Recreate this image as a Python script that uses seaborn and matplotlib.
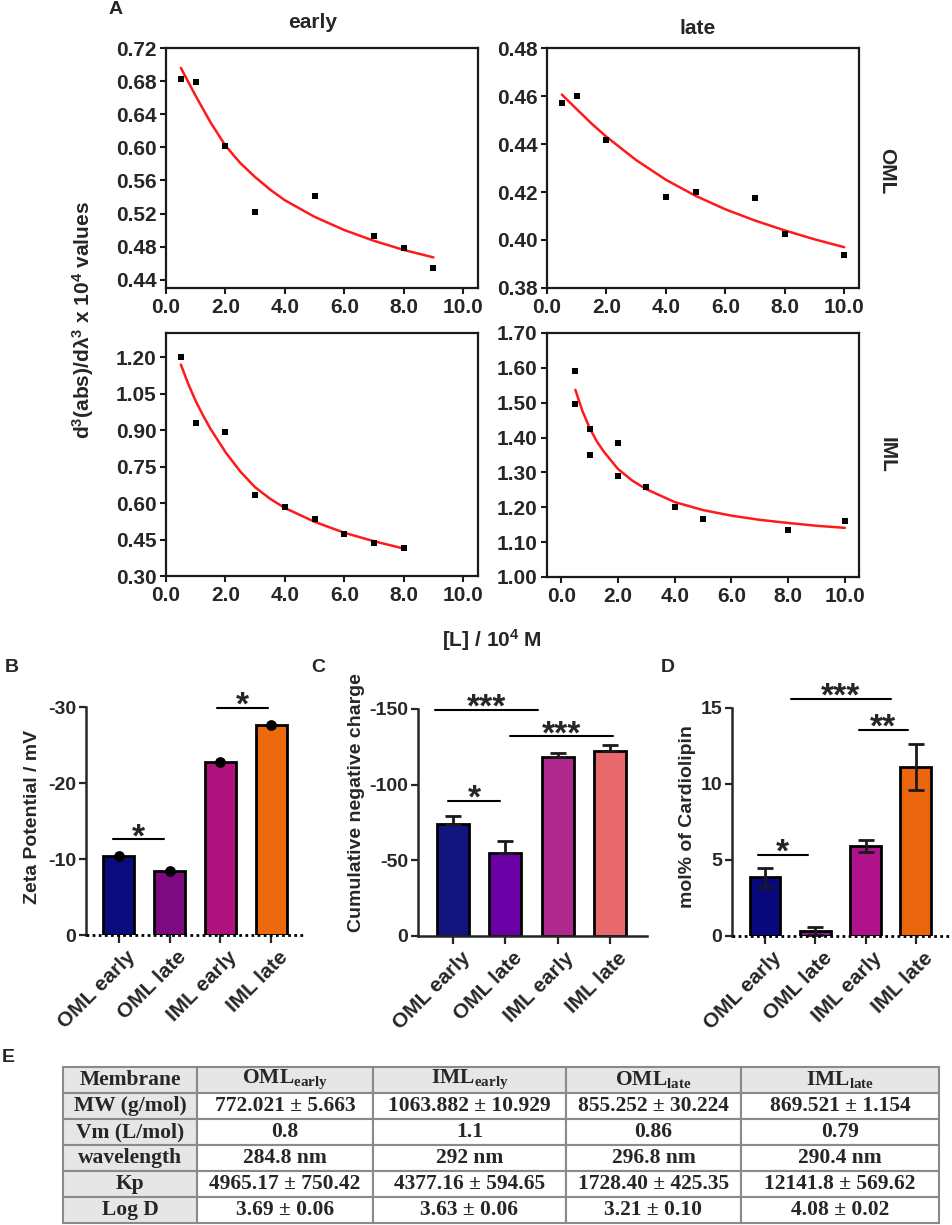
import numpy as np
import pandas as pd
import seaborn as sns
import matplotlib.pyplot as plt
from matplotlib.ticker import FormatStrFormatter
from matplotlib.transforms import ScaledTranslation

oml_early_x = [0.5, 1.0, 2.0, 3.0, 5.0, 7.0, 8.0, 9.0]
oml_early_y = [0.683, 0.679, 0.602, 0.522, 0.541, 0.493, 0.478, 0.454]
oml_early_fit_x = [0.5, 1.0, 1.5, 2.0, 2.5, 3.0, 3.5, 4.0, 5.0, 6.0, 7.0, 8.0, 9.0]
oml_early_fit_y = [0.696, 0.662, 0.630, 0.602, 0.581, 0.564, 0.549, 0.536, 0.516, 0.500, 0.487, 0.476, 0.467]

oml_late_x = [0.5, 1.0, 2.0, 4.0, 5.0, 7.0, 8.0, 10.0]
oml_late_y = [0.457, 0.460, 0.4415, 0.418, 0.420, 0.4175, 0.4027, 0.3937]
oml_late_fit_x = [0.5, 1.0, 1.5, 2.0, 3.0, 4.0, 5.0, 6.0, 7.0, 8.0, 9.0, 10.0]
oml_late_fit_y = [0.4606, 0.4545, 0.4485, 0.4430, 0.4333, 0.4251, 0.4184, 0.4128, 0.4081, 0.4040, 0.4003, 0.3970]

iml_early_x = [0.5, 1.0, 2.0, 3.0, 4.0, 5.0, 6.0, 7.0, 8.0]
iml_early_y = [1.200, 0.928, 0.894, 0.633, 0.582, 0.534, 0.472, 0.437, 0.414]
iml_early_fit_x = [0.5, 0.75, 1.0, 1.25, 1.5, 2.0, 2.5, 3.0, 3.5, 4.0, 5.0, 6.0, 7.0, 8.0]
iml_early_fit_y = [1.170, 1.090, 1.020, 0.960, 0.905, 0.810, 0.730, 0.665, 0.618, 0.580, 0.523, 0.478, 0.443, 0.413]

iml_late_x = [0.5, 0.5, 1.0, 1.0, 2.0, 2.0, 3.0, 4.0, 5.0, 8.0, 10.0]
iml_late_y = [1.592, 1.497, 1.426, 1.349, 1.383, 1.290, 1.257, 1.201, 1.167, 1.134, 1.160]
iml_late_fit_x = [0.5, 0.75, 1.0, 1.25, 1.5, 2.0, 2.5, 3.0, 4.0, 5.0, 6.0, 7.0, 8.0, 9.0, 10.0]
iml_late_fit_y = [1.537, 1.476, 1.428, 1.390, 1.360, 1.310, 1.277, 1.252, 1.215, 1.192, 1.176, 1.164, 1.155, 1.147, 1.141]

# ---- panels B-D ----
groups = ['OML early', 'OML late', 'IML early', 'IML late']
zeta = [-10.4, -8.4, -22.7, -27.6]
charge = [-74.0, -55.0, -118.0, -122.0]
charge_sd = [5.5, 8.0, 3.0, 4.5]
cardiolipin = [3.85, 0.33, 5.9, 11.1]
cardiolipin_sd = [0.6, 0.25, 0.4, 1.5]

zeta_sig = [(-0.12, 0.89, -12.6, '*'), (1.93, 2.94, -29.9, '*')]
charge_sig = [(-0.10, 0.90, -89.2, '*'), (-0.34, 1.63, -149.4, '***'), (1.09, 3.06, -132.0, '***')]
cardio_sig = [(-0.14, 0.85, 5.33, '*'), (0.52, 2.50, 15.6, '***'), (1.87, 2.84, 13.55, '**')]

colors_b = ['#0b0b7d', '#7d0a80', '#b0127e', '#ec6a0c']
colors_c = ['#14147f', '#6a00a6', '#b02a8e', '#e8696b']
colors_d = ['#08087d', '#8a1a88', '#b0128a', '#ea650e']

# ---- panel E table ----
table_header = ['Membrane', r'OML$_{\mathrm{early}}$', r'IML$_{\mathrm{early}}$',
                r'OML$_{\mathrm{late}}$', r'IML$_{\mathrm{late}}$']
table_rows = ['MW (g/mol)', 'Vm (L/mol)', 'wavelength', 'Kp', 'Log D']
col_oml_early = ['772.021 ± 5.663', '0.8', '284.8 nm', '4965.17 ± 750.42', '3.69 ± 0.06']
col_iml_early = ['1063.882 ± 10.929', '1.1', '292 nm', '4377.16 ± 594.65', '3.63 ± 0.06']
col_oml_late = ['855.252 ± 30.224', '0.86', '296.8 nm', '1728.40 ± 425.35', '3.21 ± 0.10']
col_iml_late = ['869.521 ± 1.154', '0.79', '290.4 nm', '12141.8 ± 569.62', '4.08 ± 0.02']

sns.set_theme(style='ticks')
plt.rcParams['font.family'] = ['Liberation Sans', 'DejaVu Sans']
plt.rcParams['font.weight'] = 'bold'
plt.rcParams['axes.unicode_minus'] = False
plt.rcParams['mathtext.fontset'] = 'custom'
plt.rcParams['mathtext.rm'] = 'Liberation Serif:bold'
plt.rcParams['mathtext.sf'] = 'Liberation Sans:bold'
plt.rcParams['mathtext.it'] = 'Liberation Sans:bold'
plt.rcParams['mathtext.bf'] = 'Liberation Sans:bold'

W, H = 953, 1225
fig = plt.figure(figsize=(W / 100, H / 100), dpi=100)


def box(x0, y0, x1, y1):
    return [x0 / W, 1 - y1 / H, (x1 - x0) / W, (y1 - y0) / H]


def panel_a(rect, px, py, fx, fy, xlim, ylim, yticks):
    ax = fig.add_axes(box(*rect))
    sns.lineplot(x=fx, y=fy, ax=ax, color='#ff1a1a', lw=1.8, sort=False)
    sns.scatterplot(x=px, y=py, ax=ax, marker='s', color='black', s=18, linewidth=0, zorder=3)
    ax.set_xlim(*xlim)
    ax.set_ylim(*ylim)
    ax.set_xticks(np.arange(0, 10.1, 2))
    ax.set_yticks(yticks)
    ax.xaxis.set_major_formatter(FormatStrFormatter('%.1f'))
    ax.yaxis.set_major_formatter(FormatStrFormatter('%.2f'))
    for s in ax.spines.values():
        s.set_linewidth(1.6)
        s.set_color('#1a1a1a')
    ax.tick_params(labelsize=15, width=1.5, length=4, pad=3, color='#1a1a1a')
    for lab in ax.get_xticklabels() + ax.get_yticklabels():
        lab.set_fontweight('bold')
    return ax


panel_a((166, 48, 478, 288), oml_early_x, oml_early_y, oml_early_fit_x, oml_early_fit_y,
        (0, 10.5), (0.43, 0.72), np.arange(0.44, 0.721, 0.04))
panel_a((547, 48, 859, 288), oml_late_x, oml_late_y, oml_late_fit_x, oml_late_fit_y,
        (0, 10.5), (0.38, 0.48), np.arange(0.38, 0.481, 0.02))
panel_a((166, 333, 478, 576), iml_early_x, iml_early_y, iml_early_fit_x, iml_early_fit_y,
        (0, 10.5), (0.30, 1.30), np.arange(0.30, 1.21, 0.15))
panel_a((547, 333, 859, 577), iml_late_x, iml_late_y, iml_late_fit_x, iml_late_fit_y,
        (-0.5, 10.5), (1.0, 1.7), np.arange(1.0, 1.71, 0.1))

fig.text(116 / W, 1 - 10 / H, 'A', fontsize=14, fontweight='bold', ha='center', va='center')
fig.text(313 / W, 1 - 23 / H, 'early', fontsize=15, fontweight='bold', ha='center', va='center')
fig.text(698 / W, 1 - 28 / H, 'late', fontsize=15, fontweight='bold', ha='center', va='center')
fig.text(887 / W, 1 - 171 / H, 'OML', fontsize=15, fontweight='bold', ha='center', va='center', rotation=270)
fig.text(887 / W, 1 - 455 / H, 'IML', fontsize=15, fontweight='bold', ha='center', va='center', rotation=270)
fig.text(83 / W, 1 - 320 / H, r'd$^{\mathsf{3}}$(abs)/dλ$^{\mathsf{3}}$ x 10$^{\mathsf{4}}$ values',
         fontsize=15, fontweight='bold', ha='center', va='center', rotation=90)
fig.text(492 / W, 1 - 640 / H, r'[L] / 10$^{\mathsf{4}}$ M', fontsize=15, fontweight='bold',
         ha='center', va='center')


def add_sig(ax, sig):
    for x1, x2, y, lab in sig:
        ax.plot([x1, x2], [y, y], color='black', lw=1.5, clip_on=False)
        ax.annotate(lab, xy=((x1 + x2) / 2, y), xytext=(0, -5), textcoords='offset points',
                    ha='center', va='baseline', fontsize=24, fontweight='bold',
                    annotation_clip=False)


def panel_bar(rect, vals, colors, ylim, yticks, ylabel, label_xy, xlim, dotted=True):
    ax = fig.add_axes(box(*rect))
    df = pd.DataFrame({'group': groups, 'value': vals})
    sns.barplot(data=df, x='group', y='value', hue='group', palette=colors, legend=False,
                saturation=1, edgecolor='black', linewidth=2, width=0.61, ax=ax, zorder=2)
    ax.set_xlim(*xlim)
    ax.set_ylim(*ylim)
    ax.set_yticks(yticks)
    ax.set_xlabel('')
    ax.set_ylabel(ylabel, fontsize=14, fontweight='bold')
    ax.yaxis.set_label_coords(*label_xy)
    sns.despine(ax=ax, top=True, right=True, bottom=dotted)
    ax.spines['left'].set_linewidth(1.8)
    ax.spines['bottom'].set_linewidth(1.8)
    if dotted:
        ax.axhline(0, color='black', lw=2, ls=(0, (1, 1.2)), zorder=4, clip_on=False)
    ax.tick_params(axis='y', labelsize=14, width=1.6, length=5, pad=2)
    ax.tick_params(axis='x', labelsize=15, width=1.6, length=6, pad=2)
    ax.set_xticks(range(len(groups)))
    ax.set_xticklabels(groups, rotation=45, ha='right', va='center', rotation_mode='anchor')
    shift = ScaledTranslation(14 / 100, -8 / 100, fig.dpi_scale_trans)
    for lab in ax.get_xticklabels():
        lab.set_transform(lab.get_transform() + shift)
    for lab in ax.get_xticklabels() + ax.get_yticklabels():
        lab.set_fontweight('bold')
    return ax


# B: zeta potential
ax_b = panel_bar((86, 707, 303, 935), zeta, colors_b, (0, -30), [0, -10, -20, -30],
                 'Zeta Potential / mV', (-0.207, 0.52), (-0.65, 3.63))
sns.scatterplot(x=list(range(4)), y=zeta, ax=ax_b, color='black', s=60, linewidth=0, zorder=5)
add_sig(ax_b, zeta_sig)

# C: cumulative negative charge
ax_c = panel_bar((418, 709, 647, 936), charge, colors_c, (0, -150), [0, -50, -100, -150],
                 'Cumulative negative charge', (-0.231, 0.586), (-0.67, 3.71), dotted=False)
ax_c.errorbar(range(4), charge, yerr=[charge_sd, [0] * 4], fmt='none', ecolor='#1a1a1a',
              elinewidth=2, capsize=6, capthick=2, zorder=3)
add_sig(ax_c, charge_sig)

# D: cardiolipin
ax_d = panel_bar((732, 708, 952, 936), cardiolipin, colors_d, (0, 15), [0, 5, 10, 15],
                 'mol% of Cardiolipin', (-0.164, 0.526), (-0.656, 3.72))
ax_d.errorbar(range(4), cardiolipin, yerr=cardiolipin_sd, fmt='none', ecolor='#1a1a1a',
              elinewidth=2, capsize=6, capthick=2, zorder=3)
add_sig(ax_d, cardio_sig)

for lab, x, y in [('B', 12, 667), ('C', 318, 667), ('D', 668, 668), ('E', 8, 1058)]:
    fig.text(x / W, 1 - y / H, lab, fontsize=14, fontweight='bold', ha='center', va='center')

# E: table
ax_t = fig.add_axes(box(63, 1067, 939, 1223))
ax_t.axis('off')
cells = [[r] + [a, b, c, d] for r, a, b, c, d in
         zip(table_rows, col_oml_early, col_iml_early, col_oml_late, col_iml_late)]
widths = np.array([134, 176, 193, 175, 198]) / 876
tbl = ax_t.table(cellText=cells, colLabels=table_header, colWidths=widths,
                 cellLoc='center', colLoc='center', bbox=[0, 0, 1, 1])
tbl.auto_set_font_size(False)
for (r, c), cell in tbl.get_celld().items():
    cell.set_edgecolor('#8a8a8a')
    cell.set_linewidth(1.5)
    cell.set_facecolor('#e6e6e6' if (r == 0 or c == 0) else 'white')
    t = cell.get_text()
    t.set_fontfamily('Liberation Serif')
    t.set_fontweight('bold')
    t.set_fontsize(15.5)

fig.savefig('out.png', dpi=100)
